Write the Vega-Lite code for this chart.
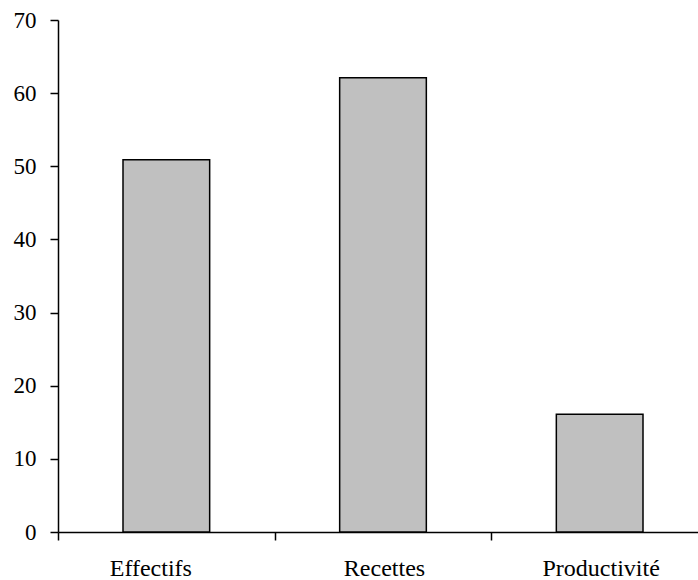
{
  "$schema": "https://vega.github.io/schema/vega-lite/v6.json",
  "autosize": "none",
  "padding": {"left": 58, "top": 20, "right": 0, "bottom": 48},
  "width": 650,
  "height": 512,
  "background": "white",
  "config": {"view": {"stroke": null}, "font": "Liberation Serif"},
  "data": {"values": [
    {"cat": "Effectifs", "value": 50.9},
    {"cat": "Recettes", "value": 62.1},
    {"cat": "Productivité", "value": 16.1}
  ]},
  "mark": {"type": "bar", "fill": "#c0c0c0", "stroke": "black", "strokeWidth": 1.5, "width": {"band": 0.4}},
  "encoding": {
    "x": {"field": "cat", "type": "nominal", "sort": null,
      "scale": {"paddingInner": 0, "paddingOuter": 0},
      "axis": {"title": null, "labelAngle": 0, "tickBand": "extent", "domainColor": "black", "domainWidth": 1.5, "tickColor": "black", "tickWidth": 1.5, "tickSize": 8, "labelFont": "Liberation Serif", "labelFontSize": 24, "labelColor": "black", "labelPadding": 16,
        "labelOffset": {"condition": {"test": "datum.value === 'Effectifs'", "value": -16}, "value": 1}}},
    "y": {"field": "value", "type": "quantitative",
      "scale": {"domain": [0, 70], "nice": false},
      "axis": {"title": null, "values": [0,10,20,30,40,50,60,70], "grid": false, "domainColor": "black", "domainWidth": 1.5, "tickColor": "black", "tickWidth": 1.5, "tickSize": 8, "labelFont": "Liberation Serif", "labelFontSize": 23, "labelColor": "black", "labelPadding": 14}}
  }
}
